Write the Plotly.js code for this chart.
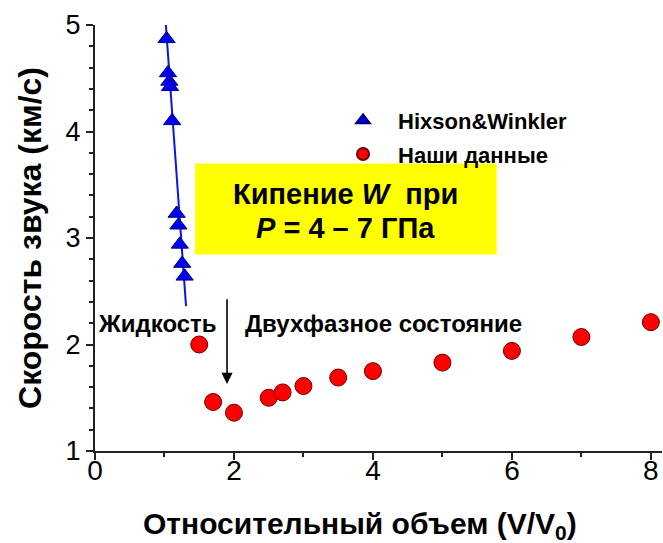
<!DOCTYPE html>
<html>
<head>
<meta charset="utf-8">
<script src="https://cdn.plot.ly/plotly-3.0.1.min.js"></script>
<style>
  html, body { margin: 0; padding: 0; background: #fff; }
  #chart { width: 663px; height: 543px; }
</style>
</head>
<body>
<div id="chart"></div>
<script>
// Hixson & Winkler reference data: relative volume vs sound speed
const hwVolume = [1.03, 1.05, 1.07, 1.08, 1.11, 1.175, 1.20, 1.22, 1.255, 1.29];
const hwSpeed  = [4.87, 4.55, 4.47, 4.42, 4.10, 3.23, 3.12, 2.94, 2.76, 2.64];

// Linear fit through the liquid-state points
const fitVolume = [1.02, 1.31];
const fitSpeed  = [5.00, 2.36];

// Our measurements
const ourVolume = [1.5, 1.7, 2.0, 2.5, 2.7, 3.0, 3.5, 4.0, 5.0, 6.0, 7.0, 8.0];
const ourSpeed  = [2.00, 1.46, 1.36, 1.50, 1.55, 1.61, 1.69, 1.75, 1.83, 1.94, 2.07, 2.21];

// Axis ticks
const xTicks = [0, 2, 4, 6, 8];
const yTicks = [1, 2, 3, 4, 5];

const xRange = [0, 8.16];
const yRange = [1, 5];

const boldFont = "Liberation Sans, Arial, sans-serif";
const tickFont = "Liberation Sans Narrow, Arial Narrow, Liberation Sans, sans-serif";
const axisColor = "#222";

const traces = [
  {
    x: fitVolume, y: fitSpeed, mode: "lines", type: "scatter",
    line: { color: "#0a14e6", width: 2 },
    showlegend: false, hoverinfo: "skip"
  },
  {
    x: hwVolume, y: hwSpeed, mode: "markers", type: "scatter",
    name: "Hixson&Winkler", legendgroup: "a",
    marker: { symbol: "triangle-up", size: 15, color: "#0000f0",
              line: { color: "#00007a", width: 1 } }
  },
  {
    x: ourVolume, y: ourSpeed, mode: "markers", type: "scatter",
    name: "Наши данные", legendgroup: "b",
    marker: { symbol: "circle", size: 17, color: "#ff0000",
              line: { color: "#6a0000", width: 1 } }
  }
];

const axisCommon = {
  showline: true, linecolor: axisColor, linewidth: 2,
  showgrid: false, zeroline: false, fixedrange: true
};

const layout = {
  width: 663, height: 543,
  margin: { l: 95, r: 1, t: 25, b: 92 },
  paper_bgcolor: "#fff", plot_bgcolor: "#fff",
  showlegend: true,
  legend: {
    x: 0.411, y: 0.825, xanchor: "left", yanchor: "top",
    bgcolor: "rgba(0,0,0,0)", borderwidth: 0,
    font: { family: boldFont, size: 22, color: "#000", weight: "bold" },
    traceorder: "grouped", tracegroupgap: 2, itemwidth: 60, itemsizing: "constant"
  },
  xaxis: Object.assign({}, axisCommon, {
    range: xRange, tickvals: xTicks, ticktext: xTicks.map(String),
    ticks: "outside", ticklen: 7, tickwidth: 2, tickcolor: axisColor,
    minor: { dtick: 1, tick0: 0, ticks: "outside", ticklen: 4, tickwidth: 2, tickcolor: axisColor },
    tickfont: { family: tickFont, size: 28, color: "#000" },
    ticklabelstandoff: -14,
    automargin: false
  }),
  yaxis: Object.assign({}, axisCommon, {
    range: yRange, tickvals: yTicks, ticktext: yTicks.map(String),
    ticks: "outside", ticklen: 7, tickwidth: 2, tickcolor: axisColor,
    minor: { dtick: 0.2, tick0: 1, ticks: "outside", ticklen: 4, tickwidth: 2, tickcolor: axisColor },
    tickfont: { family: tickFont, size: 27, color: "#000" },
    title: { text: "<b>Скорость звука (км/с)</b>", standoff: 14,
             font: { family: boldFont, size: 32, color: "#000" } },
    automargin: false
  }),
  xaxis2: Object.assign({}, axisCommon, {
    overlaying: "x", side: "top", anchor: "y", range: xRange,
    tickvals: xTicks, showticklabels: false,
    ticks: "inside", ticklen: 7, tickwidth: 2, tickcolor: axisColor,
    minor: { dtick: 1, tick0: 0, ticks: "inside", ticklen: 4, tickwidth: 2, tickcolor: axisColor }
  }),
  yaxis2: Object.assign({}, axisCommon, {
    overlaying: "y", side: "right", anchor: "x", range: yRange,
    tickvals: yTicks, showticklabels: false,
    ticks: "inside", ticklen: 7, tickwidth: 2, tickcolor: axisColor,
    minor: { dtick: 0.2, tick0: 1, ticks: "inside", ticklen: 4, tickwidth: 2, tickcolor: axisColor }
  }),
  shapes: [
    { type: "rect", xref: "x", yref: "y", x0: 1.44, x1: 5.78, y0: 2.845, y1: 3.70,
      fillcolor: "#ffff00", line: { width: 0 }, layer: "below" }
  ],
  annotations: [
    // x-axis title
    { xref: "paper", yref: "paper", x: 0.467, y: -0.176, xanchor: "center", yanchor: "middle",
      showarrow: false, text: "<b>Относительный объем (V/V<sub>0</sub>)</b>",
      font: { family: boldFont, size: 30, color: "#000" } },
    { xref: "x", yref: "y", x: 3.6, y: 3.41, showarrow: false,
      text: "<b>Кипение <i>W</i>  при</b>",
      font: { family: boldFont, size: 29, color: "#000" } },
    { xref: "x", yref: "y", x: 3.6, y: 3.09, showarrow: false,
      text: "<b><i>P</i> = 4 – 7 ГПа</b>",
      font: { family: boldFont, size: 29, color: "#000" } },
    { xref: "x", yref: "y", x: 0.9, y: 2.2, showarrow: false,
      text: "<b>Жидкость</b>",
      font: { family: boldFont, size: 24, color: "#000" } },
    { xref: "x", yref: "y", x: 4.15, y: 2.2, showarrow: false,
      text: "<b>Двухфазное состояние</b>",
      font: { family: boldFont, size: 24, color: "#000" } },
    { xref: "x", yref: "y", axref: "x", ayref: "y",
      x: 1.9, y: 1.63, ax: 1.9, ay: 2.44, text: "",
      showarrow: true, arrowhead: 2, arrowsize: 1.4, arrowwidth: 1.6, arrowcolor: "#000" }
  ]
};

Plotly.newPlot("chart", traces, layout, { staticPlot: true, displayModeBar: false });
</script>
</body>
</html>
